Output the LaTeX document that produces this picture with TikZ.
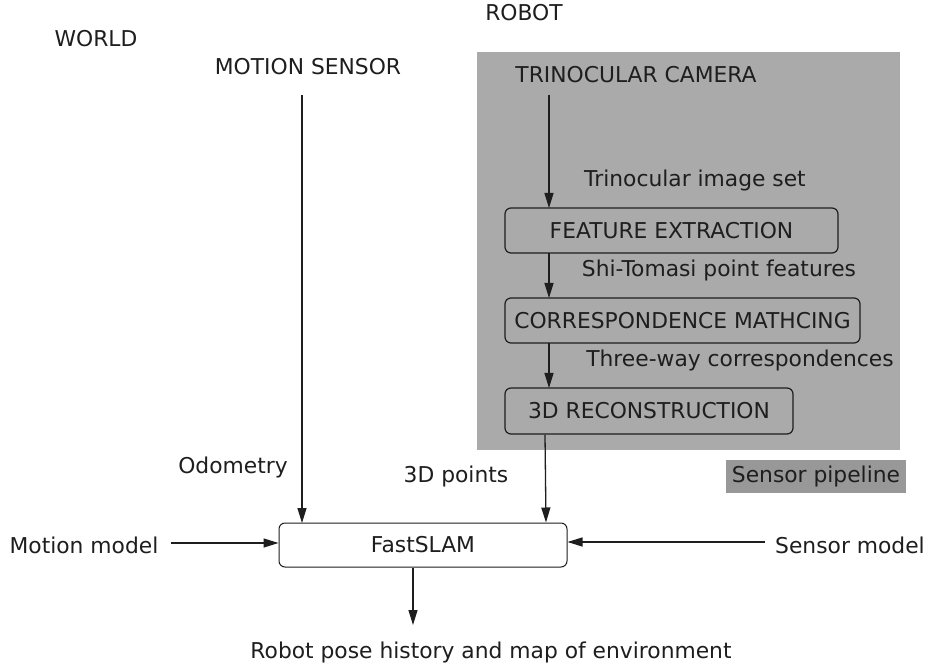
\documentclass[tikz,border=0pt]{standalone}
\usepackage{fontspec}
\setmainfont{DejaVu Sans}
\usetikzlibrary{arrows.meta}
\definecolor{pipegray}{RGB}{170,170,170}
\definecolor{tagray}{RGB}{152,152,152}
\definecolor{ink}{RGB}{30,30,30}
\tikzset{
  lbl/.style={font=\fontsize{21.8}{24}\selectfont, text=ink, inner sep=0pt},
  stage/.style={draw=ink, line width=1.2pt, rounded corners=6pt, inner sep=0pt, font=\fontsize{21.8}{24}\selectfont, text=ink},
  conn/.style={draw=ink, line width=1.3pt, -{Triangle[length=15pt,width=9pt]}},
}
\begin{document}
\begin{tikzpicture}[x=1pt,y=-1pt]
\useasboundingbox (0,0) rectangle (930,668);
\fill[white] (0,0) rectangle (930,668);
% robot pipeline background
\fill[pipegray] (477,52) rectangle (900,450);
\node[lbl] (robot) at (524,13) {ROBOT};
\node[lbl] (world) at (96,39) {WORLD};
\node[lbl] (msensor) at (308,67) {MOTION SENSOR};
\node[lbl] (cam) at (636,75) {TRINOCULAR CAMERA};
\node[stage, minimum width=333pt, minimum height=45pt] (fe) at (671.5,230.5) {FEATURE EXTRACTION};
\node[stage, minimum width=355pt, minimum height=45pt] (cm) at (682.5,320.5) {CORRESPONDENCE MATHCING};
\node[stage, minimum width=288pt, minimum height=46pt] (rec) at (649,411) {3D RECONSTRUCTION};
\node[lbl] (l1) at (695,180) {Trinocular image set};
\node[lbl] (l2) at (719,270) {Shi-Tomasi point features};
\node[lbl] (l3) at (740,360) {Three-way correspondences};
\node[lbl, fill=tagray, inner xsep=6pt, minimum height=33pt] (pipe) at (816,476.5) {Sensor pipeline};
\node[lbl] (pts) at (456,476) {3D points};
\node[lbl] (odo) at (233,467) {Odometry};
\node[stage, line width=1pt, minimum width=288pt, minimum height=44pt] (slam) at (423,545) {FastSLAM};
\node[lbl] (mm) at (84,545) {Motion model};
\node[lbl] (sm) at (850,545) {Sensor model};
\node[lbl] (out) at (491,652) {Robot pose history and map of environment};
% connectors
\coordinate (camb) at (549,95);
\draw[conn] (camb) -- (549,208);
\draw[conn] (549,253) -- (549,298);
\draw[conn] (549,343) -- (549,388);
\draw[conn] ([xshift=-104pt]rec.south) -- ([xshift=123pt]slam.north);
\draw[conn] (302,95) -- (302,523);
\draw[conn] (mm.east) ++(12pt,2pt) -- ([yshift=2pt]slam.west);
\draw[conn] (sm.west) ++(-10pt,3pt) -- ([yshift=3pt]slam.east);
\draw[conn] ([xshift=-10pt]slam.south) -- (413,625);
\end{tikzpicture}
\end{document}
